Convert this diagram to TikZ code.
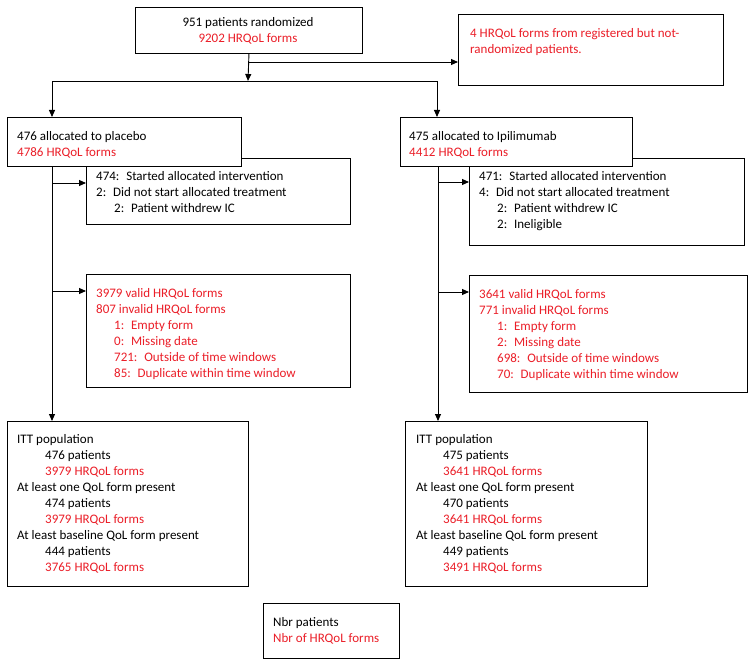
\documentclass[tikz,border=0pt]{standalone}
\usepackage{fontspec}
\setmainfont{Carlito}
\usetikzlibrary{arrows.meta}
\definecolor{formred}{RGB}{235,30,40}
\tikzset{
  box/.style={draw, fill=white, line width=0.9pt, inner sep=0pt, anchor=north west},
  txt/.style={align=left, inner sep=0pt, anchor=north west, font=\fontsize{13}{16}\selectfont},
  flow/.style={line width=0.9pt, arrows={-Triangle[width=6pt, length=7pt]}}
}

\begin{document}
\begin{tikzpicture}[x=1pt, y=-1pt]
\useasboundingbox (0, 0) rectangle (754, 666);
\node[box, minimum width=227pt, minimum height=46pt] (top) at (135, 7) {};
\node[txt, align=center, anchor=north] (toptxt) at (248, 17) {951 patients randomized\\\textcolor{formred}{9202 HRQoL forms}};
\node[box, minimum width=265pt, minimum height=71pt] (note) at (458, 14) {};
\node[txt, text=formred] (notetxt) at (470, 28) {4 HRQoL forms from registered but not-\\randomized patients.};
\node[box, minimum width=264pt, minimum height=66pt] (plcstart) at (86, 158) {};
\node[txt] (plcstarttxt) at (96, 171) {474:~ Started allocated intervention\\2:~ Did not start allocated treatment\\\hspace*{18pt}2:~ Patient withdrew IC};
\node[box, minimum width=275pt, minimum height=87pt] (ipistart) at (469, 158) {};
\node[txt] (ipistarttxt) at (479, 171) {471:~ Started allocated intervention\\4:~ Did not start allocated treatment\\\hspace*{18pt}2:~ Patient withdrew IC\\\hspace*{18pt}2:~ Ineligible};
\node[box, minimum width=234pt, minimum height=49pt] (plc) at (7, 117) {};
\node[txt] (plctxt) at (17, 131) {476 allocated to placebo\\\textcolor{formred}{4786 HRQoL forms}};
\node[box, minimum width=232pt, minimum height=49pt] (ipi) at (400, 117) {};
\node[txt] (ipitxt) at (409, 131) {475 allocated to Ipilimumab\\\textcolor{formred}{4412 HRQoL forms}};
\node[box, minimum width=264pt, minimum height=113pt] (plcvalid) at (86, 274) {};
\node[txt, text=formred] (plcvalidtxt) at (96, 288) {3979 valid HRQoL forms\\807 invalid HRQoL forms\\\hspace*{18pt}1:~ Empty form\\\hspace*{18pt}0:~ Missing date\\\hspace*{18pt}721:~ Outside of time windows\\\hspace*{18pt}85:~ Duplicate within time window};
\node[box, minimum width=278pt, minimum height=117pt] (ipivalid) at (469, 275) {};
\node[txt, text=formred] (ipivalidtxt) at (479, 289) {3641 valid HRQoL forms\\771 invalid HRQoL forms\\\hspace*{18pt}1:~ Empty form\\\hspace*{18pt}2:~ Missing date\\\hspace*{18pt}698:~ Outside of time windows\\\hspace*{18pt}70:~ Duplicate within time window};
\node[box, minimum width=241pt, minimum height=165pt] (plcitt) at (7, 421) {};
\node[txt] (plcitttxt) at (17, 434) {ITT population\\\hspace*{28pt}476 patients\\\hspace*{28pt}\textcolor{formred}{3979 HRQoL forms}\\At least one QoL form present\\\hspace*{28pt}474 patients\\\hspace*{28pt}\textcolor{formred}{3979 HRQoL forms}\\At least baseline QoL form present\\\hspace*{28pt}444 patients\\\hspace*{28pt}\textcolor{formred}{3765 HRQoL forms}};
\node[box, minimum width=242pt, minimum height=165pt] (ipiitt) at (405, 421) {};
\node[txt] (ipiitttxt) at (416, 434) {ITT population\\\hspace*{27pt}475 patients\\\hspace*{27pt}\textcolor{formred}{3641 HRQoL forms}\\At least one QoL form present\\\hspace*{27pt}470 patients\\\hspace*{27pt}\textcolor{formred}{3641 HRQoL forms}\\At least baseline QoL form present\\\hspace*{27pt}449 patients\\\hspace*{27pt}\textcolor{formred}{3491 HRQoL forms}};
\node[box, minimum width=136pt, minimum height=55pt] (legend) at (263, 603) {};
\node[txt] (legendtxt) at (273, 617) {Nbr patients\\\textcolor{formred}{Nbr of HRQoL forms}};
\coordinate (split) at (248, 81);
\coordinate (side) at (248, 62);
\draw[flow] (top.south) -- (split);
\draw[flow] (side) -- (side -| note.west);
\draw[flow] (split) -| ([xshift=45pt]plc.north west);
\draw[flow] (split) -| ([xshift=37pt]ipi.north west);
\draw[flow] ([xshift=45pt]plc.south west) coordinate (plcspine) -- (plcspine |- plcitt.north);
\draw[flow] ([xshift=38pt]ipi.south west) coordinate (ipispine) -- (ipispine |- ipiitt.north);
\draw[flow] (plcspine |- 0, 183) -- (plcstart.west |- 0, 183);
\draw[flow] (plcspine |- 0, 291) -- (plcvalid.west |- 0, 291);
\draw[flow] (ipispine |- 0, 182) -- (ipistart.west |- 0, 182);
\draw[flow] (ipispine |- 0, 292) -- (ipivalid.west |- 0, 292);
\end{tikzpicture}
\end{document}
